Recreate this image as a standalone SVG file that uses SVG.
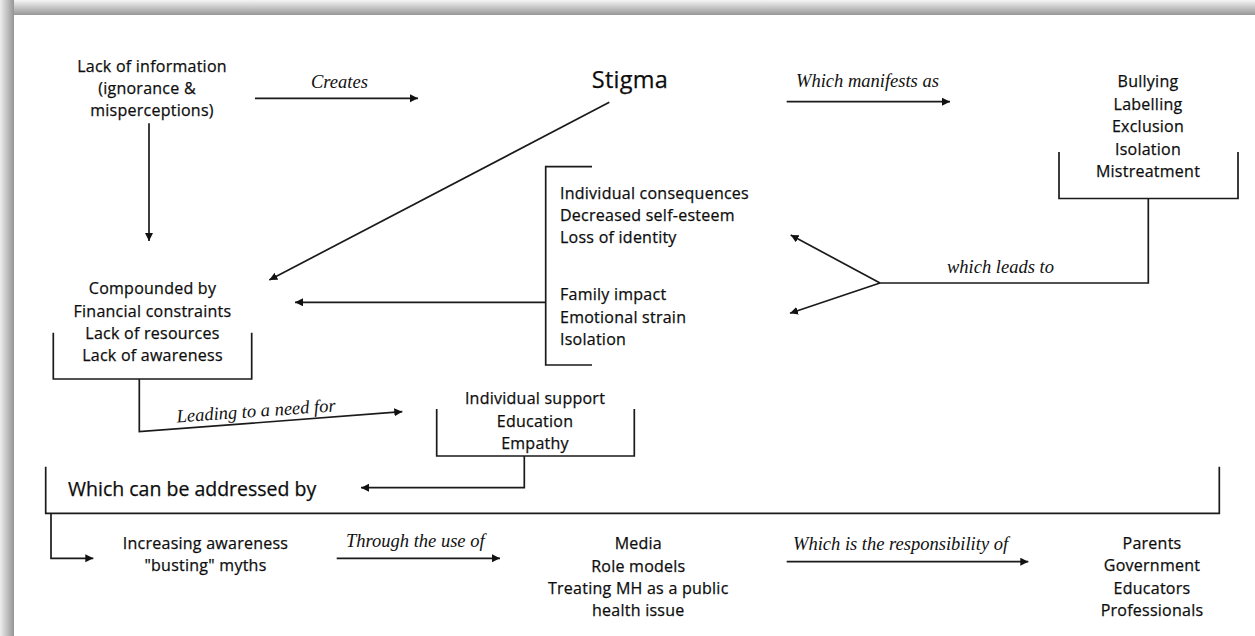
<svg xmlns="http://www.w3.org/2000/svg" width="1255" height="636" viewBox="0 0 1255 636">
  <defs>
    <linearGradient id="edgeTop" x1="0" y1="0" x2="0" y2="1">
      <stop offset="0" stop-color="#f5f5f5"/>
      <stop offset="1" stop-color="#979797"/>
    </linearGradient>
    <linearGradient id="edgeLeft" x1="0" y1="0" x2="1" y2="0">
      <stop offset="0" stop-color="#eeeeee"/>
      <stop offset="1" stop-color="#959595"/>
    </linearGradient>
    <marker id="head" markerUnits="userSpaceOnUse" markerWidth="9" markerHeight="9" refX="8" refY="4" orient="auto">
      <path d="M0,0 L8,4 L0,8 z" fill="#111111"/>
    </marker>
    <style>
      .body { font-family: "Open Sans", "Noto Sans", sans-serif; font-size: 16px; fill: #0d0d0d; stroke: #0d0d0d; stroke-width: 0.25px; letter-spacing: 0.25px; }
      .mid { text-anchor: middle; }
      .lbl { font-family: "Liberation Serif", serif; font-style: italic; font-size: 18.5px; fill: #111111; }
      .ln { fill: none; stroke: #1a1a1a; stroke-width: 1.7; }
      .arr { fill: none; stroke: #1a1a1a; stroke-width: 1.7; marker-end: url(#head); }
    </style>
  </defs>

  <!-- page with shaded top and left edges -->
  <rect x="0" y="0" width="1255" height="636" fill="#ffffff"/>
  <rect x="0" y="0" width="1255" height="15" fill="url(#edgeTop)"/>
  <rect x="0" y="0" width="14" height="636" fill="url(#edgeLeft)"/>

  <g id="lack-of-information">
    <text class="body mid" x="152" y="72">Lack of information</text>
    <text class="body mid" x="147" y="94">(ignorance &amp;</text>
    <text class="body mid" x="152" y="115.5">misperceptions)</text>
  </g>

  <g id="stigma">
    <text class="body mid" x="630" y="88" style="font-size:23.5px">Stigma</text>
  </g>

  <g id="manifestations">
    <text class="body mid" x="1148" y="87">Bullying</text>
    <text class="body mid" x="1148" y="109.5">Labelling</text>
    <text class="body mid" x="1148" y="132">Exclusion</text>
    <text class="body mid" x="1148" y="154.5">Isolation</text>
    <text class="body mid" x="1148" y="177">Mistreatment</text>
    <path class="ln" d="M1059,152 V198.5 H1238 V152"/>
  </g>

  <g id="consequences">
    <path class="ln" d="M592,166.7 H545.7 V365 H592"/>
    <text class="body" x="560" y="199">Individual consequences</text>
    <text class="body" x="560" y="221">Decreased self-esteem</text>
    <text class="body" x="560" y="243">Loss of identity</text>
    <text class="body" x="560" y="300">Family impact</text>
    <text class="body" x="560" y="322.5">Emotional strain</text>
    <text class="body" x="560" y="344.5">Isolation</text>
  </g>

  <g id="compounded-by">
    <text class="body mid" x="152.5" y="293.5">Compounded by</text>
    <text class="body mid" x="152.5" y="316.5">Financial constraints</text>
    <text class="body mid" x="152.5" y="339">Lack of resources</text>
    <text class="body mid" x="152.5" y="361">Lack of awareness</text>
    <path class="ln" d="M53.3,332.7 V379 H251.7 V332.7"/>
  </g>

  <g id="needs">
    <text class="body mid" x="535" y="404">Individual support</text>
    <text class="body mid" x="535" y="426.5">Education</text>
    <text class="body mid" x="535" y="448.5">Empathy</text>
    <path class="ln" d="M436.7,409 V456 H634.3 V409"/>
  </g>

  <g id="addressed-by">
    <path class="ln" d="M45.7,466.7 V513.3 H1219.3 V466.7"/>
    <text class="body" x="68" y="496" style="font-size:19.5px;letter-spacing:0">Which can be addressed by</text>
  </g>

  <g id="awareness">
    <text class="body mid" x="205.5" y="548.5">Increasing awareness</text>
    <text class="body mid" x="205.5" y="571">"busting" myths</text>
  </g>

  <g id="means">
    <text class="body mid" x="638.3" y="549">Media</text>
    <text class="body mid" x="638.3" y="571.5">Role models</text>
    <text class="body mid" x="638.3" y="594">Treating MH as a public</text>
    <text class="body mid" x="638.3" y="616">health issue</text>
  </g>

  <g id="responsible">
    <text class="body mid" x="1152" y="548.5">Parents</text>
    <text class="body mid" x="1152" y="571">Government</text>
    <text class="body mid" x="1152" y="594">Educators</text>
    <text class="body mid" x="1152" y="616">Professionals</text>
  </g>

  <g id="connectors">
    <!-- creates -->
    <line class="arr" x1="255" y1="98.3" x2="418" y2="98.3"/>
    <text class="lbl" x="311" y="87.5">Creates</text>
    <!-- manifests as -->
    <line class="arr" x1="786.7" y1="101.7" x2="950" y2="101.7"/>
    <text class="lbl" x="796" y="87">Which manifests as</text>
    <!-- lack of information down to compounding factors -->
    <line class="arr" x1="149" y1="123.3" x2="149" y2="241"/>
    <!-- stigma to compounding factors -->
    <line class="arr" x1="609.3" y1="102.3" x2="269.3" y2="280"/>
    <!-- manifestations lead to consequences -->
    <path class="ln" d="M1148.3,198.5 V283 H880"/>
    <line class="arr" x1="880" y1="283" x2="790.7" y2="235"/>
    <line class="arr" x1="880" y1="283" x2="790" y2="313.3"/>
    <text class="lbl" x="947" y="273">which leads to</text>
    <!-- consequences back to compounding factors -->
    <line class="arr" x1="545.7" y1="302.3" x2="295" y2="302.3"/>
    <!-- leading to a need for -->
    <path class="arr" d="M139.3,379 V431.7 L402.3,411.7"/>
    <text class="lbl" x="177" y="422.5" transform="rotate(-4 177 422.5)">Leading to a need for</text>
    <!-- needs addressed -->
    <path class="arr" d="M524.3,456 V487.7 H361"/>
    <!-- addressed by awareness -->
    <path class="arr" d="M51,513.3 V558.3 H93.3"/>
    <!-- through the use of -->
    <line class="arr" x1="336.7" y1="558.3" x2="500" y2="558.3"/>
    <text class="lbl" x="346" y="547">Through the use of</text>
    <!-- responsibility -->
    <line class="arr" x1="786.7" y1="561.7" x2="1028.3" y2="561.7"/>
    <text class="lbl" x="793" y="550">Which is the responsibility of</text>
  </g>
</svg>
